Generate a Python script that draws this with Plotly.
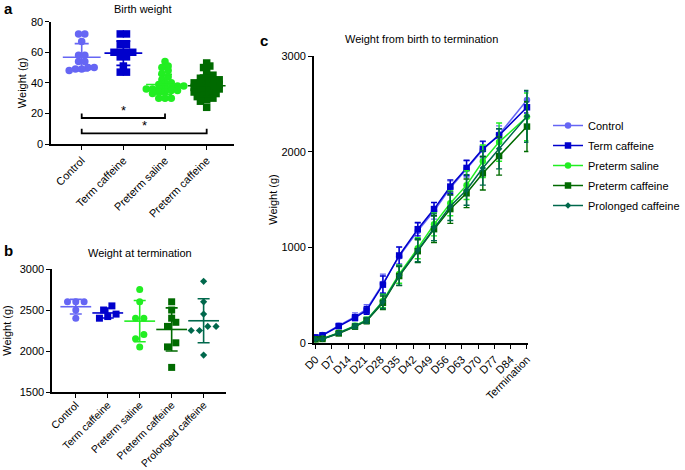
import numpy as np
import plotly.graph_objects as go

W, H = 685, 470
FONT = "Liberation Sans, Arial, sans-serif"

# ---------------- data ----------------
# Panel a: birth weight (g)
birth_groups = ["Control", "Term caffeine", "Preterm saline", "Preterm caffeine"]
birth_control = [72, 72, 67, 58, 58, 54, 54, 50, 49, 48, 49, 50]
birth_term_caffeine = [72, 72, 65, 65, 60, 60, 60, 60, 57, 57, 51, 47, 47]
birth_preterm_saline = [54, 51, 50, 48, 46, 44, 42, 40, 40, 39, 38, 38, 37, 37, 36,
                        36, 36, 35, 35, 34, 34, 33, 30, 30, 30]
birth_preterm_caffeine = [53, 51, 50, 47, 45, 44, 43, 42, 42, 41, 40, 40, 39, 38, 38,
                          37, 37, 36, 36, 35, 35, 34, 33, 33, 32, 31, 30, 29, 28, 24]
# significance brackets: (group from, group to, height in g)
brackets = [(0, 2, 17), (0, 3, 7)]

# Panel b: weight at termination (g)
term_groups = ["Control", "Term caffeine", "Preterm saline", "Preterm caffeine",
               "Prolonged caffeine"]
term_control = [2600, 2600, 2600, 2500, 2400]
term_term_caffeine = [2550, 2500, 2450, 2420, 2400]
term_preterm_saline = [2750, 2600, 2400, 2400, 2200, 2150, 2050]
term_preterm_caffeine = [2600, 2500, 2400, 2350, 2300, 2100, 2050, 1800]
term_prolonged_caffeine = [2850, 2600, 2450, 2300, 2300, 2250, 2250, 1950]

# Panel c: weight from birth to termination
time_tick_days = [0, 7, 14, 21, 28, 35, 42, 49, 56, 63, 70, 77, 84, 91]
time_tick_labels = ["D0", "D7", "D14", "D21", "D28", "D35", "D42", "D49", "D56",
                    "D63", "D70", "D77", "D84", "Termination"]
sample_days = [0, 3, 10, 17, 22, 29, 36, 44, 51, 58, 65, 72, 79, 91]
c_control = [57, 84, 181, 275, 355, 620, 905, 1170, 1380, 1620, 1820, 2020, 2180, 2540]
c_control_sd = [9, 12, 25, 40, 45, 100, 95, 85, 85, 75, 85, 85, 90, 89]
c_term_caffeine = [59, 80, 175, 265, 340, 610, 915, 1190, 1400, 1635, 1830, 2030, 2170, 2464]
c_term_caffeine_sd = [9, 10, 20, 30, 40, 90, 90, 70, 70, 70, 80, 80, 70, 60]
c_preterm_saline = [39, 45, 108, 180, 240, 440, 720, 990, 1240, 1460, 1650, 1900, 2100, 2364]
c_preterm_saline_sd = [7, 8, 15, 25, 30, 70, 95, 110, 120, 130, 150, 170, 200, 250]
c_preterm_caffeine = [38, 42, 100, 172, 232, 420, 700, 960, 1190, 1400, 1565, 1774, 1955, 2262]
c_preterm_caffeine_sd = [8, 8, 15, 25, 30, 70, 100, 120, 140, 150, 150, 175, 200, 260]
c_prolonged_caffeine = [38, 43, 104, 176, 236, 430, 705, 970, 1210, 1430, 1600, 1830, 2030, 2369]
c_prolonged_caffeine_sd = [8, 8, 15, 25, 30, 70, 100, 120, 140, 150, 160, 180, 210, 270]

series_names = ["Control", "Term caffeine", "Preterm saline", "Preterm caffeine",
                "Prolonged caffeine"]
colors = ["#6666F4", "#0000CC", "#22EE22", "#006A00", "#00684C"]
symbols = ["circle", "square", "circle", "square", "diamond"]


# ---------------- helpers ----------------
def swarm_offsets(values, row_h, step):
    """GraphPad-like scatter: points in the same value row spread symmetrically."""
    vals = np.asarray(values, dtype=float)
    order = np.argsort(vals, kind="stable")
    offs = np.zeros(len(vals))
    rows, cur, start = [], [], None
    for idx in order:
        v = vals[idx]
        if start is None or v - start >= row_h:
            if cur:
                rows.append(cur)
            cur, start = [idx], v
        else:
            cur.append(idx)
    if cur:
        rows.append(cur)
    for r in rows:
        n = len(r)
        for j, idx in enumerate(r):
            offs[idx] = (j - (n - 1) / 2) * step
    return offs


def px(xp):
    return xp / W


def py(yp):
    return 1 - yp / H


def msize_for(sym, base):
    return base - 1.5 if sym == "diamond" else base


fig = go.Figure()


def add_dot_panel(groups_vals, xa, ya, row_h, step, msize, mean_len, cap_w):
    for i, vals in enumerate(groups_vals):
        offs = swarm_offsets(vals, row_h, step)
        fig.add_trace(go.Scatter(
            x=i + offs, y=vals, mode="markers", xaxis=xa, yaxis=ya,
            marker=dict(symbol=symbols[i], size=msize_for(symbols[i], msize),
                        color=colors[i], line=dict(width=0)),
            showlegend=False, cliponaxis=False, hoverinfo="y"))
        m = float(np.mean(vals))
        sd = float(np.std(vals, ddof=1))
        fig.add_trace(go.Scatter(
            x=[i], y=[m], mode="markers", xaxis=xa, yaxis=ya,
            marker=dict(symbol="line-ew", size=mean_len, color=colors[i],
                        line=dict(width=1.6, color=colors[i])),
            error_y=dict(type="data", array=[sd], visible=True, color=colors[i],
                         thickness=1.6, width=cap_w),
            showlegend=False, cliponaxis=False, hoverinfo="y"))


# Panel a
add_dot_panel([birth_control, birth_term_caffeine, birth_preterm_saline,
               birth_preterm_caffeine], "x", "y", 2.5, 0.15, 7.5, 27, 7)
# Panel b
add_dot_panel([term_control, term_term_caffeine, term_preterm_saline,
               term_preterm_caffeine, term_prolonged_caffeine], "x2", "y2", 60, 0.26, 7, 22, 6)

# Panel c
c_means = [c_control, c_term_caffeine, c_preterm_saline, c_preterm_caffeine, c_prolonged_caffeine]
c_sds = [c_control_sd, c_term_caffeine_sd, c_preterm_saline_sd, c_preterm_caffeine_sd,
         c_prolonged_caffeine_sd]
for i, name in enumerate(series_names):
    fig.add_trace(go.Scatter(
        x=sample_days, y=c_means[i], mode="lines+markers", name=name,
        xaxis="x3", yaxis="y3", legendgroup=name,
        line=dict(color=colors[i], width=1.5),
        marker=dict(symbol=symbols[i], size=msize_for(symbols[i], 6.5), color=colors[i]),
        error_y=dict(type="data", array=c_sds[i], visible=True, color=colors[i],
                     thickness=1.4, width=3),
        cliponaxis=False))

# brackets in panel a
shapes = []
annotations = []
for g0, g1, h in brackets:
    shapes.append(dict(type="path", xref="x", yref="y",
                       path=f"M {g0},{h + 3} L {g0},{h} L {g1},{h} L {g1},{h + 3}",
                       line=dict(color="black", width=1.8)))
    annotations.append(dict(x=(g0 + g1) / 2, y=h, xref="x", yref="y", text="*",
                            showarrow=False, yanchor="bottom", yshift=-2,
                            font=dict(size=13, color="black", family=FONT)))

# panel letters & titles
for letter, xp, yp in [("a", 2, 8), ("b", 2, 250), ("c", 262, 40)]:
    annotations.append(dict(x=px(xp), y=py(yp), xref="paper", yref="paper", text=f"<b>{letter}</b>",
                            showarrow=False, xanchor="left", yanchor="middle",
                            font=dict(size=15, color="black", family=FONT)))
for title, xp, yp in [("Birth weight", 145, 9), ("Weight at termination", 142, 253),
                      ("Weight from birth to termination", 428, 39)]:
    annotations.append(dict(x=px(xp), y=py(yp), xref="paper", yref="paper", text=title,
                            showarrow=False, xanchor="center", yanchor="middle",
                            font=dict(size=11, color="black", family=FONT)))

axis_common = dict(showline=True, linecolor="black", linewidth=1.6, ticks="outside",
                   ticklen=4, tickwidth=1.4, tickcolor="black", showgrid=False,
                   zeroline=False, automargin=False,
                   tickfont=dict(size=11, color="black", family=FONT))
ytitle = dict(text="Weight (g)", font=dict(size=11, color="black", family=FONT))

fig.update_layout(
    width=W, height=H, margin=dict(l=0, r=0, t=0, b=0),
    paper_bgcolor="white", plot_bgcolor="white", template="none",
    font=dict(family=FONT, size=11, color="black"),
    xaxis=dict(axis_common, domain=[px(52), px(238)], range=[-0.733, 3.66],
               tickvals=list(range(len(birth_groups))), ticktext=birth_groups,
               tickangle=-45, anchor="y"),
    yaxis=dict(axis_common, domain=[py(144), py(21.7)], range=[0, 80],
               tickvals=[0, 20, 40, 60, 80], anchor="x", title=dict(ytitle, standoff=2)),
    xaxis2=dict(axis_common, domain=[px(53), px(230)], range=[-0.74, 4.71],
                tickvals=list(range(len(term_groups))), ticktext=term_groups,
                tickangle=-45, anchor="y2", ticklabelstandoff=-3,
                tickfont=dict(size=10.5, color="black", family=FONT)),
    yaxis2=dict(axis_common, domain=[py(392), py(269)], range=[1500, 3000],
                tickvals=[1500, 2000, 2500, 3000], anchor="x2", title=dict(ytitle, standoff=6)),
    xaxis3=dict(axis_common, domain=[px(319), px(537)], range=[-0.7, 91.6],
                tickvals=time_tick_days, ticktext=time_tick_labels, tickangle=-45, anchor="y3"),
    yaxis3=dict(axis_common, domain=[py(343), py(56)], range=[0, 3000],
                tickvals=[0, 1000, 2000, 3000], anchor="x3", title=dict(ytitle, standoff=2)),
    legend=dict(x=px(557), y=py(111), xanchor="left", yanchor="top",
                font=dict(size=11, color="black", family=FONT),
                bgcolor="rgba(0,0,0,0)", tracegroupgap=1, itemwidth=30),
    shapes=shapes, annotations=annotations, showlegend=True,
)

fig.write_html("out.html", config={"displayModeBar": False},
               post_script="document.body.style.margin='0';document.body.style.overflow='hidden';")
